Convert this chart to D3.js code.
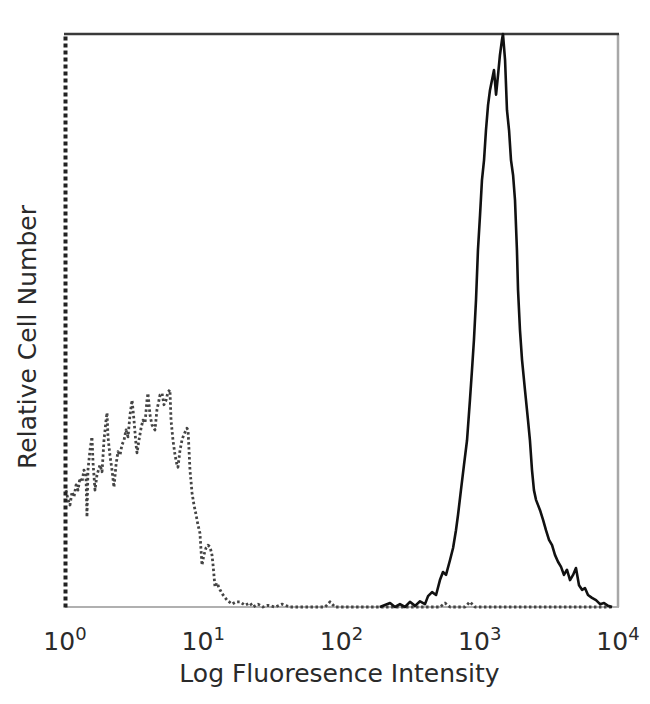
<!DOCTYPE html>
<html>
<head>
<meta charset="utf-8">
<script src="https://cdn.jsdelivr.net/npm/d3@7"></script>
<style>
  html, body { margin: 0; padding: 0; background: #fff; }
  svg { display: block; }
  text { font-family: "DejaVu Sans", Verdana, sans-serif; fill: #2a2a2a; }
</style>
</head>
<body>
<svg id="chart" width="650" height="704"></svg>
<script>
// ---- Data (x in decades: log10 of fluorescence intensity; y relative cell number, 0-100) ----
const stainedDecades = [2.278,2.351,2.387,2.423,2.459,2.495,2.532,2.568,2.604,2.626,2.655,2.684,2.712,2.734,2.756,2.785,2.807,2.828,2.843,2.864,2.886,2.908,2.929,2.944,2.958,2.973,2.987,3.002,3.016,3.031,3.045,3.060,3.074,3.089,3.103,3.118,3.132,3.146,3.161,3.168,3.183,3.197,3.212,3.226,3.241,3.255,3.269,3.277,3.291,3.306,3.327,3.349,3.363,3.378,3.392,3.407,3.436,3.458,3.479,3.501,3.523,3.544,3.566,3.588,3.609,3.631,3.653,3.675,3.696,3.718,3.740,3.761,3.783,3.812,3.841,3.870,3.899,3.928,3.957];
const stainedCounts = [0,0.7,0,0.5,0,0.9,0.2,1.0,0.5,1.9,2.6,2.1,4.7,6.1,5.6,8.2,10.3,13.4,16.1,20.4,24.8,29.1,36.1,41.4,46.6,53.6,62.3,68.4,74.5,78.0,83.2,87.6,90.2,92.0,93.7,89.4,92.8,96.3,99.0,100,95.5,86.7,83.2,78.0,75.4,71.0,62.3,55.3,48.3,43.1,37.9,32.6,29.1,23.9,20.4,18.7,16.9,15.2,13.4,11.7,10.8,9.1,7.9,7.0,5.6,6.5,4.7,5.6,6.8,3.8,3.0,3.3,2.1,1.6,1.2,0.5,0.7,0.2,0];

const controlDecades = [0.007,0.022,0.036,0.051,0.065,0.080,0.094,0.108,0.123,0.137,0.152,0.159,0.166,0.181,0.195,0.203,0.217,0.231,0.253,0.268,0.282,0.297,0.304,0.311,0.325,0.340,0.354,0.369,0.383,0.398,0.412,0.427,0.441,0.456,0.470,0.485,0.499,0.514,0.521,0.535,0.550,0.564,0.579,0.593,0.600,0.615,0.629,0.651,0.665,0.680,0.687,0.702,0.716,0.731,0.745,0.759,0.767,0.781,0.796,0.810,0.817,0.832,0.846,0.854,0.868,0.882,0.890,0.904,0.919,0.933,0.948,0.962,0.976,0.991,1.005,1.020,1.034,1.049,1.063,1.071,1.085,1.099,1.121,1.143,1.172,1.208,1.237,1.266,1.302,1.338,1.360,1.396,1.432,1.468,1.519,1.570,1.627,1.881,1.917,1.953,2.712,2.749,2.785,2.893,2.929,2.966,3.957];
const controlCounts = [20.4,18.7,17.8,20.1,19.2,21.3,20.4,22.5,21.8,23.9,23.0,15.7,23.9,27.4,29.7,25.1,20.4,23.0,24.8,23.6,29.1,32.6,33.9,29.7,26.5,23.9,20.9,24.8,27.1,26.5,28.3,29.1,30.9,29.7,33.5,36.1,32.6,28.3,26.9,29.1,31.2,32.6,32.1,36.1,37.3,33.5,31.8,30.9,34.4,36.1,37.0,37.3,35.3,36.1,37.5,37.9,32.6,29.1,26.5,24.8,24.4,27.4,29.1,29.7,30.5,31.2,30.9,23.9,19.9,17.8,16.1,14.3,12.9,7.3,9.1,10.3,10.8,10.5,9.1,7.3,3.5,4.2,3.0,2.1,1.2,0.5,0.9,0.9,0.3,0.7,0,0.5,0,0.3,0,0.5,0,0,0.9,0,0,0.7,0,0,0.9,0,0];

const tickExponents = ["0","1","2","3","4"];
const xLabel = "Log Fluoresence Intensity";
const yLabel = "Relative Cell Number";

// ---- Layout ----
const svg = d3.select("#chart");
const mLeft = 65, mRight = 618, mTop = 34, mBottom = 607;

const x = d3.scaleLog().domain([1, 1e4]).range([mLeft, mRight]);
const y = d3.scaleLinear().domain([0, 100]).range([mBottom, mTop]);

const line = d3.line()
  .x(d => x(Math.pow(10, d[0])))
  .y(d => y(d[1]));

// frame: bottom & right (gray), top (dark)
svg.append("line").attr("x1", mLeft).attr("x2", mRight + 1).attr("y1", mBottom).attr("y2", mBottom)
  .attr("stroke", "#b0b0b0").attr("stroke-width", 2);
svg.append("line").attr("x1", mRight).attr("x2", mRight).attr("y1", mTop).attr("y2", mBottom)
  .attr("stroke", "#a8a8a8").attr("stroke-width", 2.5);
svg.append("line").attr("x1", mLeft - 1).attr("x2", mRight + 1).attr("y1", mTop).attr("y2", mTop)
  .attr("stroke", "#3a3a3a").attr("stroke-width", 2.5);

// control (dotted) histogram
const controlData = controlDecades.map((d, i) => [d, controlCounts[i]]);
svg.append("path").datum(controlData)
  .attr("fill", "none").attr("stroke", "#444").attr("stroke-width", 2.8)
  .attr("stroke-dasharray", "2.5,2.5").attr("stroke-linejoin", "round")
  .attr("d", line);

// stained (solid) histogram
const stainedData = stainedDecades.map((d, i) => [d, stainedCounts[i]]);
svg.append("path").datum(stainedData)
  .attr("fill", "none").attr("stroke", "#111").attr("stroke-width", 2.6)
  .attr("stroke-linejoin", "round")
  .attr("d", line);

// left axis (dotted dark)
const yAxis = d3.axisLeft(y).tickValues([]).tickSizeOuter(0);
const ya = svg.append("g").attr("transform", `translate(${mLeft},0)`).call(yAxis);
ya.select(".domain").attr("stroke", "#222").attr("stroke-width", 4).attr("stroke-dasharray", "4,3");

// x tick labels 10^n
const xa = svg.append("g");
tickExponents.forEach(e => {
  const v = Math.pow(10, +e);
  const t = xa.append("text")
    .attr("x", x(v)).attr("y", 650)
    .attr("text-anchor", "middle")
    .style("font-size", "25px");
  t.append("tspan").text("10");
  t.append("tspan").text(e).attr("dy", -10).style("font-size", "18px");
});

// axis titles
svg.append("text").attr("x", (mLeft + mRight) / 2 - 2).attr("y", 682)
  .attr("text-anchor", "middle").style("font-size", "25px").text(xLabel);
svg.append("text")
  .attr("transform", `translate(36,${337}) rotate(-90)`)
  .attr("text-anchor", "middle").style("font-size", "25px").text(yLabel);
</script>
</body>
</html>
